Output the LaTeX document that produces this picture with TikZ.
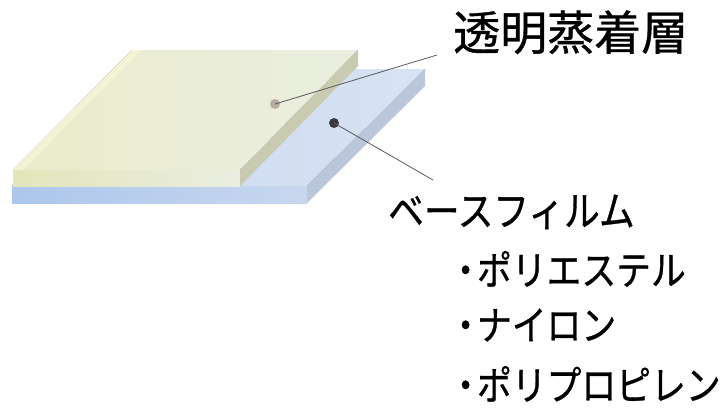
\documentclass[tikz,border=0pt]{standalone}
\usepackage{fontspec}
\newfontfamily\jpfont[FakeBold=0.8]{Noto Sans CJK JP}
\newfontfamily\kanafont[FakeStretch=0.87,FakeBold=0.8]{Noto Sans CJK JP}
\usetikzlibrary{positioning}

\definecolor{vtopL}{RGB}{234,236,202}
\definecolor{vtopR}{RGB}{234,238,224}
\definecolor{vedge}{RGB}{243,243,212}
\definecolor{vfront}{RGB}{227,229,186}
\definecolor{vside}{RGB}{201,202,178}
\definecolor{btopL}{RGB}{200,214,238}
\definecolor{btopR}{RGB}{216,227,243}
\definecolor{bfrontL}{RGB}{172,198,236}
\definecolor{bfrontR}{RGB}{200,215,238}
\definecolor{bside}{RGB}{186,198,217}
\definecolor{vdotc}{RGB}{178,172,162}
\definecolor{bdotc}{RGB}{58,58,58}

\tikzset{
  dot/.style={circle, minimum size=10pt, inner sep=0pt},
  leader/.style={draw=black!65, line width=0.8pt},
  label/.style={anchor=base west, inner sep=0pt},
  item/.style={label, font=\kanafont\fontsize{40}{40}\selectfont}
}

\begin{document}
\begin{tikzpicture}[x=1pt,y=-1pt]
\useasboundingbox (0,0) rectangle (728,408);

% base film
\fill[left color=btopL, right color=btopR] (12,186) -- (130,69) -- (425,69) -- (307,186) -- cycle;
\fill[left color=bfrontL, right color=bfrontR] (12,186) rectangle (307,203);
\fill[bside] (307,186) -- (425,69) -- (425,86) -- (307,203) -- cycle;

% vapour deposited layer
\fill[left color=vtopL, right color=vtopR] (13,170) -- (132,50) -- (358,50) -- (240,170) -- cycle;
\fill[vedge] (13,170) -- (132,50) -- (142,50) -- (23,170) -- cycle;
\fill[left color=vfront, right color=vtopR] (13,170) rectangle (240,186);
\fill[vside] (240,170) -- (358,50) -- (358,66) -- (240,186) -- cycle;

% leaders
\node[dot, fill=vdotc] (vdot) at (275,104) {};
\node[dot, fill=bdotc] (bdot) at (334,123) {};
\coordinate (vend) at (437,55);
\coordinate (bend) at (433,180);
\draw[leader] (vdot.center) -- (vend);
\draw[leader] (bdot.center) -- (bend);

% texts
\node[label, font=\jpfont\fontsize{47}{47}\selectfont] (vlabel) at (453,50) {透明蒸着層};
\node[label, font=\kanafont\fontsize{41}{41}\selectfont] (blabel) at (388,226) {ベースフィルム};
\node[item] (pet) at (448,285) {・\kern-6pt ポリエステル};
\node[item] (ny) at (448,340) {・\kern-6pt ナイロン};
\node[item] (pp) at (448,400) {・\kern-6pt ポリプロピレン};
\end{tikzpicture}
\end{document}
